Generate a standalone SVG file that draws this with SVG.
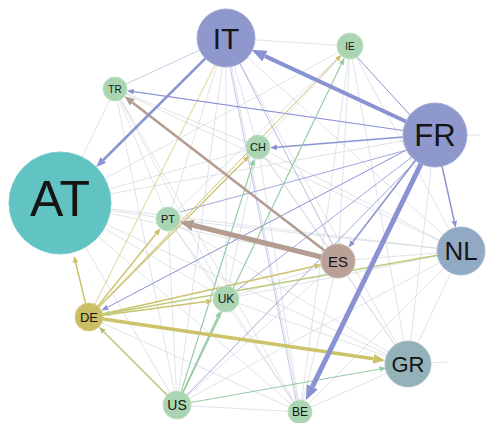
<svg xmlns="http://www.w3.org/2000/svg" width="490" height="423" viewBox="0 0 490 423">
<style>
.f{stroke:#cdd3dc;stroke-width:0.9;opacity:0.7;fill:none}
.p{stroke:#8a93d2;fill:none}
.b{stroke:#b39c90;fill:none}
.y{stroke:#cbc26a;fill:none}
.g{stroke:#95cba4;fill:none}
.o{stroke:#b7bb72;fill:none}
.yg{stroke:#b9cc7c;fill:none}
.n{stroke-width:1}
.t{font-family:"Liberation Sans",Arial,sans-serif;fill:#151515;text-anchor:middle}
</style>
<defs>
<marker id="mp" markerUnits="userSpaceOnUse" viewBox="0 0 10 8" markerWidth="7" markerHeight="6" refX="0" refY="4" orient="auto"><path d="M0,0L10,4L0,8z" fill="#8a93d2"/></marker>
<marker id="mpm" markerUnits="userSpaceOnUse" viewBox="0 0 10 8" markerWidth="10" markerHeight="8" refX="0" refY="4" orient="auto"><path d="M0,0L10,4L0,8z" fill="#8a93d2"/></marker>
<marker id="mpl" markerUnits="userSpaceOnUse" viewBox="0 0 10 8" markerWidth="15" markerHeight="12" refX="0" refY="4" orient="auto"><path d="M0,0L10,4L0,8z" fill="#8a93d2"/></marker>
<marker id="mbm" markerUnits="userSpaceOnUse" viewBox="0 0 10 8" markerWidth="10" markerHeight="8" refX="0" refY="4" orient="auto"><path d="M0,0L10,4L0,8z" fill="#b39c90"/></marker>
<marker id="mbl" markerUnits="userSpaceOnUse" viewBox="0 0 10 8" markerWidth="14" markerHeight="12" refX="0" refY="4" orient="auto"><path d="M0,0L10,4L0,8z" fill="#b39c90"/></marker>
<marker id="my" markerUnits="userSpaceOnUse" viewBox="0 0 10 8" markerWidth="7" markerHeight="6" refX="0" refY="4" orient="auto"><path d="M0,0L10,4L0,8z" fill="#cbc26a"/></marker>
<marker id="myl" markerUnits="userSpaceOnUse" viewBox="0 0 10 8" markerWidth="12" markerHeight="10" refX="0" refY="4" orient="auto"><path d="M0,0L10,4L0,8z" fill="#cbc26a"/></marker>
<marker id="mg" markerUnits="userSpaceOnUse" viewBox="0 0 10 8" markerWidth="7" markerHeight="6" refX="0" refY="4" orient="auto"><path d="M0,0L10,4L0,8z" fill="#95cba4"/></marker>
<marker id="mo" markerUnits="userSpaceOnUse" viewBox="0 0 10 8" markerWidth="7" markerHeight="6" refX="0" refY="4" orient="auto"><path d="M0,0L10,4L0,8z" fill="#b7bb72"/></marker>
<marker id="myg" markerUnits="userSpaceOnUse" viewBox="0 0 10 8" markerWidth="7" markerHeight="6" refX="0" refY="4" orient="auto"><path d="M0,0L10,4L0,8z" fill="#b9cc7c"/></marker>
</defs>
<rect width="490" height="423" fill="#ffffff"/>
<g id="connectors">
<!-- faint background edges -->
<line class="f" x1="60" y1="203" x2="350" y2="46"/>
<line class="f" x1="60" y1="203" x2="258" y2="147"/>
<line class="f" x1="60" y1="203" x2="435" y2="135"/>
<line class="f" x1="60" y1="203" x2="338" y2="261"/>
<line class="f" x1="60" y1="203" x2="461" y2="251"/>
<line class="f" x1="60" y1="203" x2="226" y2="299"/>
<line class="f" x1="60" y1="203" x2="408" y2="364"/>
<line class="f" x1="60" y1="203" x2="177" y2="405"/>
<line class="f" x1="60" y1="203" x2="300" y2="412"/>
<line class="f" x1="60" y1="203" x2="168" y2="219"/>
<line class="f" x1="60" y1="203" x2="115" y2="89"/>
<line class="f" x1="226" y1="38" x2="350" y2="46"/>
<line class="f" x1="226" y1="38" x2="258" y2="147"/>
<line class="f" x1="226" y1="38" x2="168" y2="219"/>
<line class="f" x1="226" y1="38" x2="226" y2="299"/>
<line class="f" x1="226" y1="38" x2="177" y2="405"/>
<line class="f" x1="226" y1="38" x2="300" y2="412"/>
<line class="f" x1="226" y1="38" x2="408" y2="364"/>
<line class="f" x1="226" y1="38" x2="461" y2="251"/>
<line class="f" x1="115" y1="89" x2="226" y2="299"/>
<line class="f" x1="115" y1="89" x2="177" y2="405"/>
<line class="f" x1="115" y1="89" x2="258" y2="147"/>
<line class="f" x1="115" y1="89" x2="168" y2="219"/>
<line class="f" x1="115" y1="89" x2="300" y2="412"/>
<line class="f" x1="115" y1="89" x2="461" y2="251"/>
<line class="f" x1="350" y1="46" x2="258" y2="147"/>
<line class="f" x1="350" y1="46" x2="338" y2="261"/>
<line class="f" x1="350" y1="46" x2="461" y2="251"/>
<line class="f" x1="350" y1="46" x2="300" y2="412"/>
<line class="f" x1="350" y1="46" x2="408" y2="364"/>
<line class="f" x1="350" y1="46" x2="168" y2="219"/>
<line class="f" x1="258" y1="147" x2="226" y2="299"/>
<line class="f" x1="258" y1="147" x2="338" y2="261"/>
<line class="f" x1="258" y1="147" x2="300" y2="412"/>
<line class="f" x1="258" y1="147" x2="408" y2="364"/>
<line class="f" x1="258" y1="147" x2="461" y2="251"/>
<line class="f" x1="168" y1="219" x2="226" y2="299"/>
<line class="f" x1="168" y1="219" x2="300" y2="412"/>
<line class="f" x1="168" y1="219" x2="177" y2="405"/>
<line class="f" x1="168" y1="219" x2="461" y2="251"/>
<line class="f" x1="168" y1="219" x2="408" y2="364"/>
<line class="f" x1="461" y1="251" x2="408" y2="364"/>
<line class="f" x1="461" y1="251" x2="300" y2="412"/>
<line class="f" x1="461" y1="251" x2="226" y2="299"/>
<line class="f" x1="461" y1="251" x2="177" y2="405"/>
<line class="f" x1="461" y1="251" x2="338" y2="261"/>
<line class="f" x1="338" y1="261" x2="408" y2="364"/>
<line class="f" x1="338" y1="261" x2="300" y2="412"/>
<line class="f" x1="338" y1="261" x2="177" y2="405"/>
<line class="f" x1="338" y1="261" x2="226" y2="299"/>
<line class="f" x1="408" y1="364" x2="300" y2="412"/>
<line class="f" x1="408" y1="364" x2="226" y2="299"/>
<line class="f" x1="177" y1="405" x2="300" y2="412"/>
<line class="f" x1="226" y1="299" x2="300" y2="412"/>
<line class="f" x1="89" y1="317" x2="300" y2="412"/>
<line class="f" x1="89" y1="317" x2="177" y2="405"/>
<line class="f" x1="435" y1="135" x2="480" y2="135"/>
<line class="f" x1="408" y1="364" x2="448" y2="362"/>
<line class="f" x1="435" y1="135" x2="408" y2="364"/>
<!-- thin coloured edges -->
<line class="p" stroke-width="1" x1="357" y1="57" x2="410" y2="115"/>
<line class="p" stroke-width="0.8" opacity="0.6" x1="200" y1="50" x2="126" y2="84"/>
<line class="y" stroke-width="1" opacity="0.7" x1="215" y1="65" x2="95" y2="304"/>
<line class="p" stroke-width="1" opacity="0.8" x1="407" y1="150" x2="180" y2="212"/>
<line class="p" stroke-width="1" opacity="0.8" x1="412" y1="157" x2="236" y2="291"/>
<line class="p" stroke-width="1" opacity="0.8" x1="416" y1="161" x2="187" y2="395"/>
<line class="p" stroke-width="0.9" opacity="0.7" x1="240" y1="64" x2="333" y2="245"/>
<line class="p" stroke-width="0.9" opacity="0.6" x1="230" y1="67" x2="296" y2="400"/>
<!-- arrow edges -->
<line class="p" stroke-width="1.2" x1="403.3" y1="130.5" x2="133.8" y2="91.7" marker-end="url(#mp)"/>
<line class="p" stroke-width="1.5" x1="403" y1="137" x2="277" y2="147.3" marker-end="url(#mp)"/>
<line class="p" stroke-width="1.5" x1="442" y1="166.2" x2="454.2" y2="220.8" marker-end="url(#mp)"/>
<line class="p" stroke-width="1.5" x1="415.5" y1="160.3" x2="352.7" y2="242" marker-end="url(#mp)"/>
<line class="p" stroke-width="1" x1="406.7" y1="149.9" x2="107.6" y2="307.2" marker-end="url(#mp)"/>
<line class="g" stroke-width="1.5" x1="183" y1="392" x2="217.6" y2="317.2" marker-end="url(#mg)"/>
<line class="g" stroke-width="1.2" x1="181.2" y1="391.6" x2="252.3" y2="165.1" marker-end="url(#mg)"/>
<line class="g" stroke-width="1.2" x1="183" y1="392.4" x2="341.4" y2="64" marker-end="url(#mg)"/>
<line class="g" stroke-width="1" x1="190.8" y1="402.5" x2="379.5" y2="369.1" marker-end="url(#mg)"/>
<line class="y" stroke-width="1" x1="98.7" y1="306.9" x2="336.8" y2="59.7" marker-end="url(#my)"/>
<line class="y" stroke-width="1.5" x1="97.8" y1="306.1" x2="156.1" y2="233.8" marker-end="url(#my)"/>
<line class="y" stroke-width="1.2" x1="98.9" y1="307.1" x2="244.6" y2="160.5" marker-end="url(#my)"/>
<line class="y" stroke-width="1.5" x1="102.9" y1="315.2" x2="206.2" y2="301.6" marker-end="url(#my)"/>
<line class="y" stroke-width="1.5" x1="102.7" y1="313.9" x2="314.6" y2="266.2" marker-end="url(#my)"/>
<line class="yg" stroke-width="1.5" x1="437.4" y1="255.2" x2="109.7" y2="313.3" marker-end="url(#myg)"/>
<line class="y" stroke-width="1.5" x1="85.6" y1="303.4" x2="75.7" y2="262.8" marker-end="url(#my)"/>
<line class="o" stroke-width="1.2" x1="167" y1="395" x2="104" y2="332" marker-end="url(#mo)"/>
<line class="y" stroke-width="3.5" x1="102.8" y1="319" x2="373.4" y2="358.8" marker-end="url(#myl)"/>
<line class="b" stroke-width="2.5" x1="324.5" y1="250.6" x2="132.4" y2="102.4" marker-end="url(#mbm)"/>
<line class="b" stroke-width="5" x1="321.5" y1="257" x2="193.2" y2="225.3" marker-end="url(#mbl)"/>
<line class="p" stroke-width="2.5" x1="205.4" y1="58.4" x2="103.3" y2="160" marker-end="url(#mpm)"/>
<line class="p" stroke-width="4" x1="406" y1="121.5" x2="265" y2="56.1" marker-end="url(#mpl)"/>
<line class="p" stroke-width="5" x1="421" y1="163.8" x2="312.3" y2="386.8" marker-end="url(#mpl)"/>
</g>
<g id="node-IT"><circle class="n" cx="226" cy="38" r="29" fill="#8e98cc" stroke="#a3acd6"/><text class="t" x="226" y="49" font-size="30">IT</text></g>
<g id="node-IE"><circle class="n" cx="350" cy="46" r="13" fill="#a9d5b2" stroke="#bfe0c6"/><text class="t" x="350" y="50" font-size="10">IE</text></g>
<g id="node-TR"><circle class="n" cx="115" cy="89" r="12" fill="#a9d5b2" stroke="#bfe0c6"/><text class="t" x="115" y="93" font-size="10">TR</text></g>
<g id="node-FR"><circle class="n" cx="435" cy="135" r="32" fill="#8e98cc" stroke="#a3acd6"/><text class="t" x="435" y="146" font-size="31">FR</text></g>
<g id="node-CH"><circle class="n" cx="258" cy="147" r="12" fill="#a9d5b2" stroke="#bfe0c6"/><text class="t" x="258" y="151" font-size="11">CH</text></g>
<g id="node-AT"><circle class="n" cx="60" cy="203" r="51" fill="#62c3c3" stroke="#7ccdcd"/><text class="t" x="60" y="216" font-size="50">AT</text></g>
<g id="node-PT"><circle class="n" cx="168" cy="219" r="12" fill="#a9d5b2" stroke="#bfe0c6"/><text class="t" x="168" y="223" font-size="11">PT</text></g>
<g id="node-NL"><circle class="n" cx="461" cy="251" r="24" fill="#91a9c3" stroke="#a6bacf"/><text class="t" x="461" y="260" font-size="26">NL</text></g>
<g id="node-ES"><circle class="n" cx="338" cy="261" r="17" fill="#b9a197" stroke="#cab6ad"/><text class="t" x="338" y="267" font-size="15">ES</text></g>
<g id="node-UK"><circle class="n" cx="226" cy="299" r="13" fill="#a9d5b2" stroke="#bfe0c6"/><text class="t" x="226" y="303" font-size="12">UK</text></g>
<g id="node-DE"><circle class="n" cx="89" cy="317" r="14" fill="#cbbd63" stroke="#d8cd82"/><text class="t" x="89" y="322" font-size="13">DE</text></g>
<g id="node-GR"><circle class="n" cx="408" cy="364" r="23" fill="#93b2ba" stroke="#a8c2c8"/><text class="t" x="408" y="372" font-size="22">GR</text></g>
<g id="node-US"><circle class="n" cx="177" cy="405" r="14" fill="#a9d5b2" stroke="#bfe0c6"/><text class="t" x="177" y="410" font-size="14">US</text></g>
<g id="node-BE"><circle class="n" cx="300" cy="412" r="12" fill="#a9d5b2" stroke="#bfe0c6"/><text class="t" x="300" y="416" font-size="12">BE</text></g>
</svg>
